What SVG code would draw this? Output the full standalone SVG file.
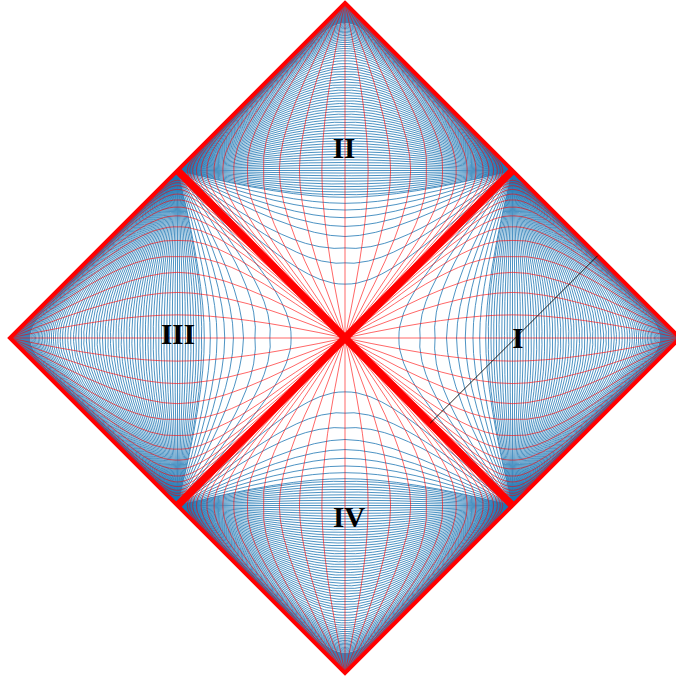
<svg xmlns="http://www.w3.org/2000/svg" width="676" height="678" viewBox="0 0 676 678">
<style>
.ns{vector-effect:non-scaling-stroke}
.b{fill:none;stroke:#1f77b4;stroke-width:.8}
.r{fill:none;stroke:#f00;stroke-width:.8;stroke-opacity:.75}
.bf{fill:#1f68a4;stroke:none}
.lbl{font-family:"Liberation Serif","Times New Roman",serif;font-weight:bold;font-size:29px;text-anchor:middle;fill:#000}
</style>
<defs>
<clipPath id="tri"><path d="M0,0H1000V1000Z"/></clipPath>
<path id="T" vector-effect="non-scaling-stroke" d="M10,40527L15,27013L20,20257L30,13499L40,10118L50,8089L60,6734L70,5766L80,5039L100,4019L120,3337L140,2848L160,2479L180,2191L200,1959L250,1537L300,1249L350,1039L400,876L450,745L500,637L550,544L600,462L650,390L700,324L750,264L800,207L850,153L900,101L950,50L1000,0"/>
<path id="TF" d="M10,40527L15,27013L20,20257L30,13499L40,10118L50,8089L60,6734L70,5766L80,5039L100,4019L120,3337L140,2848L160,2479L180,2191L200,1959L250,1537L300,1249L350,1039L400,876L450,745L500,637L550,544L600,462L650,390L700,324L750,264L800,207L850,153L900,101L950,50L1000,0L10,0Z"/>
<g id="bt1" clip-path="url(#tri)">
<use href="#T" transform="scale(1,.0652)"/><use href="#T" transform="scale(1,.1278)"/><use href="#T" transform="scale(1,.1882)"/>
</g>
<g id="bt3" clip-path="url(#tri)">
<use href="#T" transform="matrix(3.4301,0,0,3.2619,-2430.1,0)"/><use href="#T" transform="matrix(2.47874,0,0,2.24157,-1478.7,0)"/><use href="#T" transform="matrix(2.06801,0,0,1.77828,-1068,0)"/><use href="#T" transform="matrix(1.82874,0,0,1.49518,-828.7,0)"/><use href="#T" transform="matrix(1.6694,0,0,1.29754,-669.4,0)"/><use href="#T" transform="matrix(1.55496,0,0,1.14879,-555,0)"/><use href="#T" transform="matrix(1.4683,0,0,1.03088,-468.3,0)"/><use href="#T" transform="matrix(1.40051,0,0,.93424,-400.5,0)"/><use href="#T" transform="matrix(1.34576,0,0,.8527,-345.8,0)"/>
</g>
<g id="bt2" clip-path="url(#tri)">
<use href="#T" transform="matrix(1.30138,0,0,.78302,-301.4,0)"/><use href="#T" transform="matrix(1.26378,0,0,.72181,-263.8,0)"/><use href="#T" transform="matrix(1.23194,0,0,.66768,-231.9,0)"/><use href="#T" transform="matrix(1.20463,0,0,.61926,-204.6,0)"/><use href="#T" transform="matrix(1.18126,0,0,.57573,-181.3,0)"/><use href="#T" transform="matrix(1.1612,0,0,.5363,-161.2,0)"/><use href="#T" transform="matrix(1.14352,0,0,.50021,-143.5,0)"/><use href="#T" transform="matrix(1.12776,0,0,.46695,-127.8,0)"/><use href="#T" transform="matrix(1.11378,0,0,.43624,-113.8,0)"/><use href="#T" transform="matrix(1.10191,0,0,.40799,-101.9,0)"/><use href="#T" transform="matrix(1.09098,0,0,.38157,-91,0)"/><use href="#T" transform="matrix(1.08111,0,0,.35689,-81.1,0)"/><use href="#T" transform="matrix(1.07281,0,0,.334,-72.8,0)"/><use href="#T" transform="matrix(1.06481,0,0,.31234,-64.8,0)"/><use href="#T" transform="matrix(1.05805,0,0,.29213,-58.1,0)"/><use href="#T" transform="matrix(1.05184,0,0,.27307,-51.8,0)"/><use href="#T" transform="matrix(1.04609,0,0,.25507,-46.1,0)"/><use href="#T" transform="matrix(1.04129,0,0,.23817,-41.3,0)"/><use href="#T" transform="matrix(1.03643,0,0,.2221,-36.4,0)"/><use href="#T" transform="matrix(1.03273,0,0,.20703,-32.7,0)"/><use href="#T" transform="matrix(1.02861,0,0,.19262,-28.6,0)"/><use href="#T" transform="matrix(1.0258,0,0,.17915,-25.8,0)"/><use href="#T" transform="matrix(1.02235,0,0,.16621,-22.4,0)"/><use href="#T" transform="matrix(1.02018,0,0,.15412,-20.2,0)"/><use href="#T" transform="matrix(1.01736,0,0,.14252,-17.4,0)"/><use href="#T" transform="matrix(1.01566,0,0,.13165,-15.7,0)"/><use href="#T" transform="matrix(1.01341,0,0,.12124,-13.4,0)"/><use href="#T" transform="matrix(1.01197,0,0,.11146,-12,0)"/><use href="#T" transform="matrix(1.01032,0,0,.10216,-10.3,0)"/>
<use href="#T" transform="scale(1,.091719)"/><use href="#T" transform="scale(1,.083192)"/><use href="#T" transform="scale(1,.075458)"/><use href="#T" transform="scale(1,.068443)"/><use href="#T" transform="scale(1,.06208)"/><use href="#T" transform="scale(1,.056308)"/><use href="#T" transform="scale(1,.051073)"/><use href="#T" transform="scale(1,.046325)"/><use href="#T" transform="scale(1,.042018)"/><use href="#T" transform="scale(1,.038112)"/><use href="#T" transform="scale(1,.034569)"/><use href="#T" transform="scale(1,.031355)"/><use href="#T" transform="scale(1,.02844)"/><use href="#T" transform="scale(1,.025796)"/><use href="#T" transform="scale(1,.023398)"/><use href="#T" transform="scale(1,.021223)"/><use href="#T" transform="scale(1,.01925)"/><use href="#T" transform="scale(1,.01746)"/><use href="#T" transform="scale(1,.015837)"/><use href="#T" transform="scale(1,.014365)"/><use href="#T" transform="scale(1,.013029)"/><use href="#T" transform="scale(1,.011818)"/><use href="#T" transform="scale(1,.010719)"/><use href="#T" transform="scale(1,.009723)"/>
</g>
<g id="bfs" clip-path="url(#tri)" class="bf">
<use href="#TF" transform="scale(1,.0091)" fill-opacity=".85"/>
</g>
<g id="rt" clip-path="url(#tri)">
<use href="#T" transform="scale(1,.17204)"/><use href="#T" transform="scale(1,.1108)"/><use href="#T" transform="scale(1,.071361)"/><use href="#T" transform="scale(1,.045959)"/><use href="#T" transform="scale(1,.029599)"/><use href="#T" transform="scale(1,.019063)"/><use href="#T" transform="scale(1,.012277)"/><use href="#T" transform="scale(1,.007907)"/><use href="#T" transform="scale(1,.005092)"/><use href="#T" transform="scale(1,.00328)"/><use href="#T" transform="scale(1,.002112)"/>
</g>
<g id="rf">
<path class="ns" d="M0,1000Q251,610 431,431Q610,251 1000,0M0,1000Q192,536 364,364Q536,192 1000,0M0,1000Q143,464 304,304Q464,143 1000,0"/>
<use href="#rt"/><use href="#rt" transform="matrix(0,1,1,0,0,0)"/>
</g>
<g id="Q">
<g class="b">
<use href="#bt1"/><use href="#bt1" transform="matrix(0,1,1,0,0,0)"/>
<path class="ns" d="M0,1000Q143,464 303,303Q464,143 1000,0M0,1000Q167,500 333,333Q500,167 1000,0M0,1000Q188,530 359,359Q530,188 1000,0M0,1000Q207,556 382,382Q556,207 1000,0M0,1000Q225,578 402,402Q578,225 1000,0M0,1000Q241,598 420,420Q598,241 1000,0M0,1000L1000,0"/>
<use href="#bt3"/><use href="#bt3" transform="matrix(0,1,1,0,0,0)"/>
<g transform="rotate(180,500,500)"><use href="#bt3"/><use href="#bt3" transform="matrix(0,1,1,0,0,0)"/><use href="#bt2"/><use href="#bt2" transform="matrix(0,1,1,0,0,0)"/></g>
</g>
<g transform="rotate(180,500,500)"><use href="#bfs"/><use href="#bfs" transform="matrix(0,1,1,0,0,0)"/></g>
<g class="r">
<use href="#rf" transform="matrix(1,0,0,-1,0,1000)"/>
<use href="#rf" transform="matrix(-1,0,0,1,1000,0)"/>
<path class="ns" d="M0,0L1000,1000"/>
</g>
</g>
</defs>
<rect width="676" height="678" fill="#fff"/>
<g id="region-I"><use href="#Q" transform="translate(345,338) rotate(-45) scale(.2369)"/></g>
<g id="region-II"><use href="#Q" transform="translate(345,338) rotate(-135) scale(.2369)"/></g>
<g id="region-III"><use href="#Q" transform="translate(345,338) rotate(135) scale(.2369)"/></g>
<g id="region-IV"><use href="#Q" transform="translate(345,338) rotate(45) scale(.2369)"/></g>
<g id="edges" fill="none" stroke="#f00">
<path d="M345,3L680,338L345,673L10,338Z" stroke-width="4"/>
<path d="M177.5,170.5L512.5,505.5M512.5,170.5L177.5,505.5" stroke-width="7.5"/>
</g>
<g id="connectors"><path d="M430.2,423.2L597.7,255.7" stroke="#000" stroke-width="1" stroke-opacity=".85"/></g>
<g id="labels">
<text class="lbl" x="518" y="348">I</text>
<text class="lbl" x="344" y="158">II</text>
<text class="lbl" x="178" y="344">III</text>
<text class="lbl" x="349" y="527">IV</text>
</g>
</svg>
